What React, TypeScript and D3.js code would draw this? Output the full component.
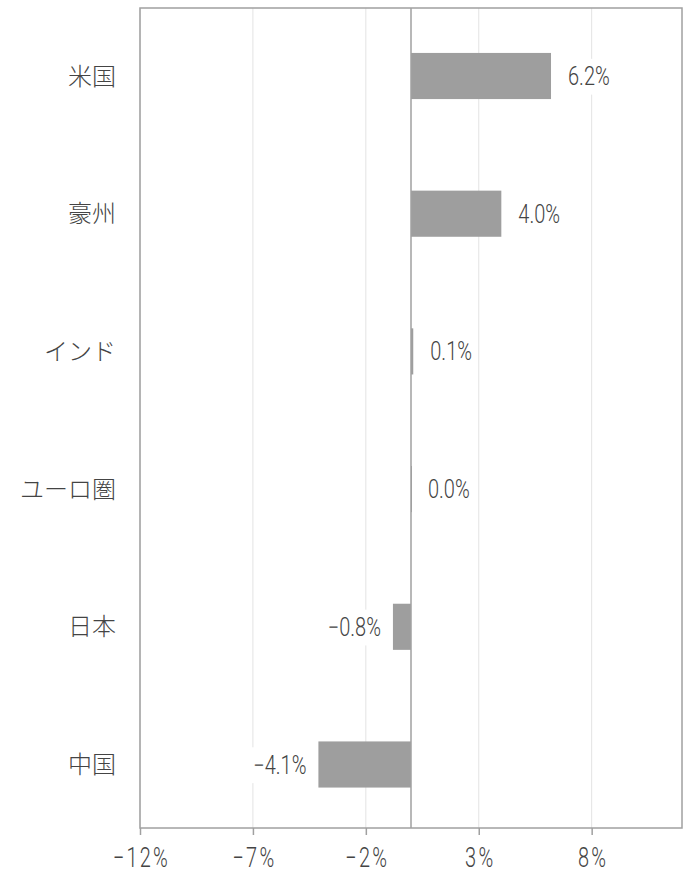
import { useEffect, useRef } from "react";
import * as d3 from "d3";

const categories = ["米国", "豪州", "インド", "ユーロ圏", "日本", "中国"];
const values = [6.2, 4.0, 0.1, 0.0, -0.8, -4.1];
const tickValues = [-12, -7, -2, 3, 8];

const numFont = "Roboto, 'Liberation Sans', sans-serif";
const jpFont = "'Noto Sans CJK JP', sans-serif";
const squeeze = 0.8;

export default function App() {
  const ref = useRef<SVGSVGElement>(null);

  useEffect(() => {
    if (!ref.current) return;
    const svg = d3.select(ref.current);
    svg.selectAll("*").remove();

    const width = 691;
    const height = 875;
    const margin = { top: 8, right: 9, bottom: 47, left: 140 };

    const x = d3.scaleLinear().domain([-12, 12]).range([margin.left, width - margin.right]);
    const y = d3.scaleBand<string>()
      .domain(categories)
      .range([7.5, 833])
      .paddingInner(0.665)
      .paddingOuter(0.33);

    // grid lines
    svg.append("g")
      .selectAll("line")
      .data(tickValues)
      .join("line")
      .attr("x1", d => x(d))
      .attr("x2", d => x(d))
      .attr("y1", margin.top)
      .attr("y2", height - margin.bottom)
      .attr("stroke", "#e3e3e3")
      .attr("stroke-width", 1);

    // bars
    svg.append("g")
      .selectAll("rect")
      .data(values)
      .join("rect")
      .attr("x", d => x(Math.min(0, d)))
      .attr("y", (d, i) => y(categories[i])!)
      .attr("width", d => Math.max(1, Math.abs(x(d) - x(0))))
      .attr("height", y.bandwidth())
      .attr("fill", "#9e9e9e");

    // zero line
    svg.append("line")
      .attr("x1", x(0))
      .attr("x2", x(0))
      .attr("y1", margin.top)
      .attr("y2", height - margin.bottom)
      .attr("stroke", "#a0a0a0")
      .attr("stroke-width", 1.5);

    // frame
    svg.append("rect")
      .attr("x", margin.left)
      .attr("y", margin.top)
      .attr("width", width - margin.left - margin.right)
      .attr("height", height - margin.top - margin.bottom)
      .attr("fill", "none")
      .attr("stroke", "#a0a0a0")
      .attr("stroke-width", 1.5);

    // value labels with white background
    const labels = svg.append("g")
      .selectAll("g")
      .data(values)
      .join("g")
      .attr("transform", (d, i) => {
        const px = d < 0 ? x(d) - 12 : x(d) + 17;
        return `translate(${px},${y(categories[i])! + y.bandwidth() / 2}) scale(${squeeze},1)`;
      });

    labels.append("text")
      .attr("text-anchor", d => (d < 0 ? "end" : "start"))
      .attr("dy", "0.36em")
      .attr("font-family", numFont)
      .attr("font-weight", 300)
      .attr("font-size", 25)
      .attr("fill", "#444")
      .text(d => (d < 0 ? "\u2212" + Math.abs(d).toFixed(1) : d.toFixed(1)) + "%");

    labels.each(function () {
      const g = d3.select(this);
      const t = g.select<SVGTextElement>("text").node()!;
      const b = t.getBBox();
      g.insert("rect", "text")
        .attr("x", b.x - 4)
        .attr("y", b.y - 3)
        .attr("width", b.width + 8)
        .attr("height", b.height + 6)
        .attr("fill", "white");
    });

    // category labels
    svg.append("g")
      .selectAll("text")
      .data(categories)
      .join("text")
      .attr("x", 116)
      .attr("y", d => y(d)! + y.bandwidth() / 2)
      .attr("dy", "0.36em")
      .attr("text-anchor", "end")
      .attr("font-family", jpFont)
      .attr("font-weight", 300)
      .attr("font-size", 24)
      .attr("fill", "#444")
      .text(d => d);

    // x axis
    const axis = svg.append("g")
      .attr("transform", `translate(0,${height - margin.bottom})`)
      .call(d3.axisBottom(x).tickValues(tickValues).tickSize(7).tickSizeOuter(0)
        .tickFormat(d => (+d < 0 ? "\u2212" + Math.abs(+d) : String(d)) + "%"));
    axis.select(".domain").remove();
    axis.selectAll(".tick line").attr("stroke", "#a0a0a0").attr("stroke-width", 1.5);
    axis.selectAll(".tick text")
      .attr("y", 0)
      .attr("dy", 0)
      .attr("transform", `translate(1,39) scale(0.74,1)`)
      .attr("font-family", numFont)
      .attr("font-weight", 300)
      .attr("font-size", 27)
      .attr("fill", "#444")
      .attr("letter-spacing", 3);
  }, []);

  return <svg ref={ref} width={691} height={875} style={{ position: "absolute", left: 0, top: 0, background: "white" }} />;
}
